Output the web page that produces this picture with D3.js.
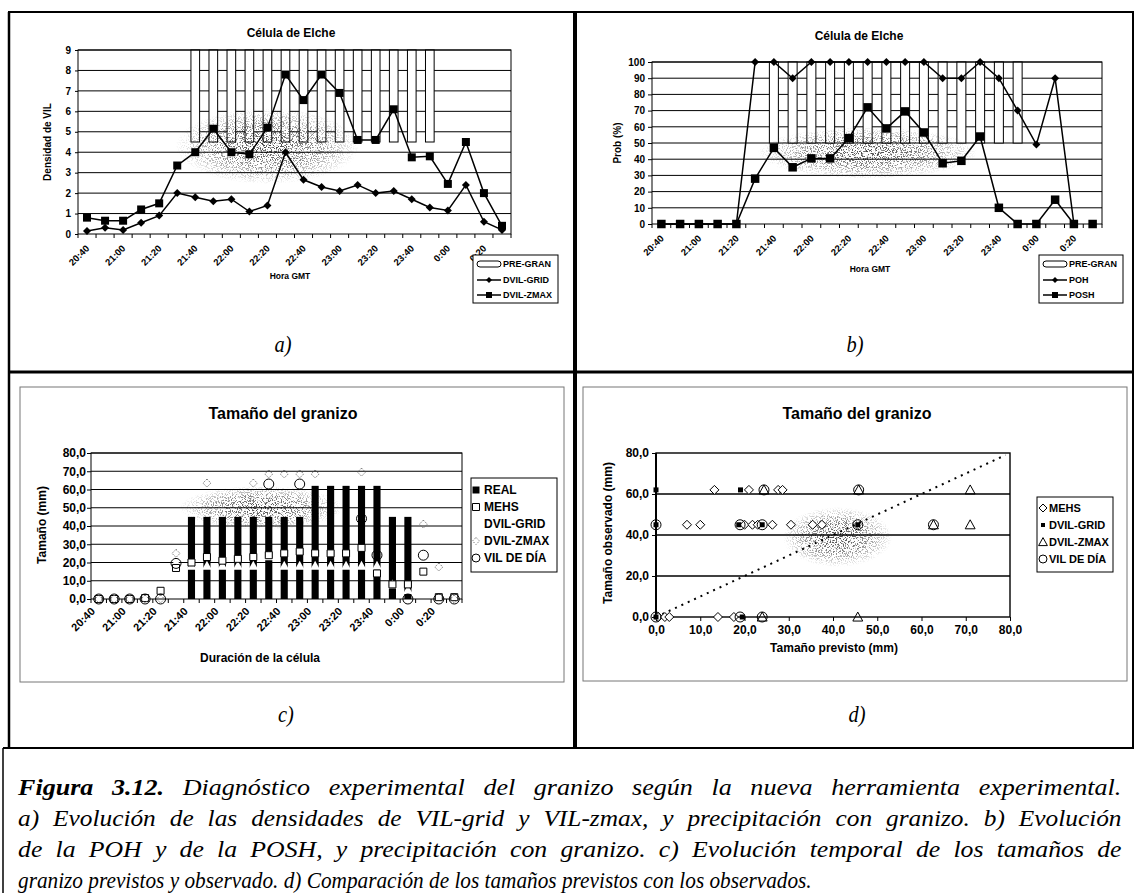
<!DOCTYPE html>
<meta charset="utf-8">
<style>
body { margin: 0; background: #fff; }
text { font-family: "Liberation Sans", Arial, sans-serif; font-weight: bold; fill: #000; }
text.pie { font-family: "Liberation Serif", "Times New Roman", serif; font-style: italic; font-weight: normal; }
</style>
<body>
<svg id="figura" width="1136" height="893"></svg>
<script src="https://d3js.org/d3.v7.min.js"></script>
<script>
// ---------- datos ----------
var horas = ["20:40","20:50","21:00","21:10","21:20","21:30","21:40","21:50","22:00","22:10","22:20","22:30",
             "22:40","22:50","23:00","23:10","23:20","23:30","23:40","23:50","0:00","0:10","0:20","0:30"];
var horasEtiqueta = ["20:40","21:00","21:20","21:40","22:00","22:20","22:40","23:00","23:20","23:40","0:00","0:20"];

// a) densidades de VIL
var preGranBaseA = [null,null,null,null,null,null,4.5,4.5,4.5,4.5,4.5,4.5,4.5,4.5,4.5,4.5,4.5,4.5,4.5,4.5,null,null,null,null];
var preGranTopeA = [null,null,null,null,null,null,9,9,9,9,9,9,9,9,9,9,9,9,9,9,null,null,null,null];
var dvilGrid = [0.15,0.3,0.2,0.55,0.9,2.0,1.8,1.6,1.7,1.1,1.4,4.0,2.65,2.3,2.1,2.4,2.0,2.1,1.7,1.3,1.15,2.4,0.6,0.2];
var dvilZmax = [0.8,0.65,0.65,1.2,1.5,3.35,4.0,5.15,4.0,3.9,5.2,7.8,6.55,7.8,6.9,4.6,4.6,6.1,3.75,3.8,2.45,4.5,2.0,0.4];

// b) POH y POSH
var preGranBaseB = [null,null,null,null,null,null,50,50,50,50,50,50,50,50,50,50,50,50,50,50,null,null,null,null];
var preGranTopeB = [null,null,null,null,null,null,100,100,100,100,100,100,100,100,100,100,100,100,100,100,null,null,null,null];
var poh  = [0,0,0,0,0,100,100,90,100,100,100,100,100,100,100,90,90,100,90,70,49,90,0,0];
var posh = [0,0,0,0,0,28,47,35,40.5,40.5,53,72,59,69.5,56.5,37.5,39,54,10,0,0,15,0,0];
var ultimaUnidaB = 22; // el punto de 0:30 queda suelto, sin linea

// c) tamaño del granizo en el tiempo
var tamReal = [0,0,0,0,0,0,45,45,45,45,45,45,45,45,62,62,62,62,62,45,45,0,0,0];
var tamMehs = [0,0,0,0.5,4.5,17,20,23,21,22,23,24,25,26,25,25,25,28,14,8,8,15,1,1];
var tamGrid = [null,null,null,null,null,20,18.2,18.2,18.2,18.2,18.2,23.5,18.2,18.2,18.2,18.2,18.2,18.2,18.2,8,5,17,null,null];
var tamZmax = [0,0,0,0,0,25,null,63.5,null,null,63.5,68.5,68.5,68.5,68.5,null,null,69.5,null,null,null,41,17.5,0];
var tamVil  = [0,0,0,0,0,19.5,null,null,null,null,null,63,null,63,null,null,null,44,24,null,0,24,0,0];

// d) previsto frente a observado  [previsto, observado]
var dispMehs = [[13.2,62],[21,62],[27.6,62],[28.6,62],[7,45],[10,45],[20,45],[21.8,45],[23,45],[26.3,45],
                [30.5,45],[35.4,45],[37.5,45],[0.5,0],[2,0],[3,0],[14,0],[17.6,0]];
var dispGrid = [[0,62],[19.1,62],[0,45],[18.7,45],[24,45],[45.6,45],[0,0],[19.5,0]];
var dispZmax = [[24.4,62],[45.8,62],[71,62],[62.7,45],[71,45],[24,0],[45.6,0]];
var dispVil  = [[24.4,62],[45.8,62],[0,45],[19,45],[24,45],[45.6,45],[62.7,45],[0,0],[19,0],[24,0]];
var dispRecta = [[0,0],[79,79]];

var ejeDisp = [0,10,20,30,40,50,60,70,80];

var pieLineas = [
  [["Figura 3.12.", true], [" Diagnóstico experimental del granizo según la nueva herramienta experimental.", false]],
  [["a) Evolución de las densidades de VIL-grid y VIL-zmax, y precipitación con granizo. b) Evolución", false]],
  [["de la POH y de la POSH, y precipitación con granizo. c) Evolución temporal de los tamaños de", false]],
  [["granizo previstos y observado. d) Comparación de los tamaños previstos con los observados.", false]]
];

// ---------- dibujo ----------
var svg = d3.select("#figura");
svg.append("rect").attr("width", 1136).attr("height", 893).attr("fill", "#fff");

var es = d3.formatLocale({decimal: ",", thousands: ".", grouping: [3], currency: ["", ""]});
var fmt1 = es.format(".1f");

var defs = svg.append("defs");
var grad = defs.append("radialGradient").attr("id", "nube");
grad.append("stop").attr("offset", "0%").attr("stop-color", "#000").attr("stop-opacity", 0.75);
grad.append("stop").attr("offset", "55%").attr("stop-color", "#000").attr("stop-opacity", 0.45);
grad.append("stop").attr("offset", "100%").attr("stop-color", "#000").attr("stop-opacity", 0);
var filtro = defs.append("filter").attr("id", "grano");
filtro.append("feTurbulence").attr("type", "fractalNoise").attr("baseFrequency", 0.8)
  .attr("numOctaves", 2).attr("seed", 7).attr("result", "ruido");
filtro.append("feColorMatrix").attr("in", "ruido").attr("type", "matrix")
  .attr("values", "0 0 0 0 0  0 0 0 0 0  0 0 0 0 0  9 0 0 0 -4.6").attr("result", "puntos");
filtro.append("feComposite").attr("in", "puntos").attr("in2", "SourceGraphic").attr("operator", "in");

function forma(tipo, s) {
  var r = s / 2;
  if (tipo == "diamante") return "M0," + (-r) + "L" + r + ",0L0," + r + "L" + (-r) + ",0Z";
  if (tipo == "cuadrado") return "M" + (-r) + "," + (-r) + "h" + s + "v" + s + "h" + (-s) + "Z";
  if (tipo == "triangulo") return "M0," + (-r * 1.1) + "L" + (r * 1.1) + "," + (r * 0.9) + "L" + (-r * 1.1) + "," + (r * 0.9) + "Z";
  return d3.symbol(d3.symbolCircle, Math.PI * r * r)();
}

function marcas(g, pts, fx, fy, o) {
  g.append("g").selectAll("path")
    .data(pts.filter(function (d) { return d[1] != null; }))
    .join("path")
    .attr("transform", function (d) { return "translate(" + fx(d[0]) + "," + fy(d[1]) + ")"; })
    .attr("d", forma(o.tipo, o.tam))
    .attr("fill", o.relleno)
    .attr("stroke", o.borde || "none")
    .attr("stroke-width", o.grosor || 1)
    .attr("stroke-dasharray", o.guion || null);
}

function nube(g, cx, cy, rx, ry) {
  g.append("ellipse").attr("cx", cx).attr("cy", cy).attr("rx", rx).attr("ry", ry)
    .attr("fill", "url(#nube)").attr("filter", "url(#grano)");
}

function leyenda(g, caja, items, fs) {
  g.append("rect").attr("x", caja[0]).attr("y", caja[1]).attr("width", caja[2]).attr("height", caja[3])
    .attr("fill", "#fff").attr("stroke", "#000");
  items.forEach(function (it) {
    if (it.barra) g.append("rect").attr("x", it.sx - 12).attr("y", it.cy - 3).attr("width", 24).attr("height", 6)
      .attr("rx", 3).attr("fill", "#fff").attr("stroke", "#000");
    if (it.linea) g.append("line").attr("x1", it.sx - 12).attr("x2", it.sx + 12).attr("y1", it.cy).attr("y2", it.cy)
      .attr("stroke", "#000").attr("stroke-width", 1.5);
    if (it.tipo) g.append("path").attr("transform", "translate(" + it.sx + "," + it.cy + ")")
      .attr("d", forma(it.tipo, it.tam)).attr("fill", it.relleno).attr("stroke", it.borde || "none")
      .attr("stroke-dasharray", it.guion || null);
    g.append("text").attr("x", it.tx).attr("y", it.cy + fs * 0.36).attr("font-size", fs).text(it.texto);
  });
}

function ejesTiempo(g, x, y, p) {
  var bordes = horas.map(function (h) { return x(h); }).concat([x.range()[1]]);
  g.append("g").selectAll("line").data(bordes).join("line")
    .attr("x1", function (d) { return d; }).attr("x2", function (d) { return d; })
    .attr("y1", p.abajo).attr("y2", p.abajo + 4).attr("stroke", "#000");
  var xa = g.append("g").attr("transform", "translate(0," + p.abajo + ")")
    .call(d3.axisBottom(x).tickValues(horasEtiqueta).tickSize(0));
  xa.select(".domain").remove();
  xa.attr("font-size", p.fx);
  xa.selectAll("text").attr("y", 0).attr("dy", 0).attr("text-anchor", "end")
    .attr("transform", "translate(" + p.etqDx + "," + p.etqDy + ") rotate(-45)");
  var ya = g.append("g").attr("transform", "translate(" + p.izq + ",0)")
    .call(d3.axisLeft(y).tickValues(p.yTicks).tickSize(p.tick).tickPadding(p.pad).tickFormat(p.formato));
  ya.select(".domain").remove();
  ya.attr("font-size", p.fy);
}

function panelHora(p) {
  var g = svg.append("g");
  var x = d3.scaleBand().domain(horas).range([p.izq, p.der]);
  var xc = function (h) { return x(h) + x.bandwidth() / 2; };
  var y = d3.scaleLinear().domain([0, p.ymax]).range([p.abajo, p.arriba]);

  g.append("g").selectAll("line").data(p.yTicks.filter(function (v) { return v > 0; })).join("line")
    .attr("x1", p.izq).attr("x2", p.der).attr("y1", y).attr("y2", y).attr("stroke", "#000");

  var barras = horas.map(function (h, i) { return {h: h, base: p.base[i], tope: p.tope[i]}; })
    .filter(function (d) { return d.base != null; });
  g.append("g").selectAll("rect").data(barras).join("rect")
    .attr("x", function (d) { return xc(d.h) - x.bandwidth() * 0.24; })
    .attr("width", x.bandwidth() * 0.48)
    .attr("y", function (d) { return y(d.tope); })
    .attr("height", function (d) { return y(d.base) - y(d.tope); })
    .attr("fill", "#fff").attr("stroke", "#000");

  nube(g, xc(p.nube[0]), y(p.nube[1]), p.nube[2], p.nube[3]);

  g.append("rect").attr("x", p.izq).attr("y", p.arriba).attr("width", p.der - p.izq)
    .attr("height", p.abajo - p.arriba).attr("fill", "none").attr("stroke", "#000");
  ejesTiempo(g, x, y, p);

  p.series.forEach(function (s) {
    var pts = horas.map(function (h, i) { return [h, s.valores[i], i]; });
    var linea = d3.line()
      .defined(function (d) { return d[1] != null && d[2] <= s.hasta; })
      .x(function (d) { return xc(d[0]); })
      .y(function (d) { return y(d[1]); });
    g.append("path").datum(pts).attr("d", linea).attr("fill", "none")
      .attr("stroke", "#000").attr("stroke-width", 1.5);
    marcas(g, pts, xc, y, s);
  });

  g.append("text").attr("x", p.tituloX).attr("y", p.tituloY).attr("text-anchor", "middle")
    .attr("font-size", 12).text("Célula de Elche");
  g.append("text").attr("transform", "translate(" + p.yLabX + "," + ((p.arriba + p.abajo) / 2) + ") rotate(-90)")
    .attr("text-anchor", "middle").attr("font-size", 10).text(p.yLab);
  g.append("text").attr("x", p.xLabX).attr("y", p.xLabY).attr("text-anchor", "middle")
    .attr("font-size", 8.5).text("Hora GMT");
  leyenda(g, p.caja, p.leyenda, 9);
}

// a)
panelHora({
  izq: 78, der: 511, arriba: 50, abajo: 234, ymax: 9, yTicks: d3.range(0, 10),
  base: preGranBaseA, tope: preGranTopeA, nube: ["22:20", 4.3, 92, 38],
  fx: 9.5, fy: 10, tick: 3, pad: 4, formato: d3.format("d"), etqDx: 3, etqDy: 15,
  series: [
    {valores: dvilGrid, tipo: "diamante", tam: 8, relleno: "#000", hasta: 99},
    {valores: dvilZmax, tipo: "cuadrado", tam: 8, relleno: "#000", hasta: 99}
  ],
  tituloX: 291, tituloY: 37, yLab: "Densidad de VIL", yLabX: 51, xLabX: 290, xLabY: 279,
  caja: [473, 255, 85, 48],
  leyenda: [
    {texto: "PRE-GRAN", sx: 489, cy: 264, tx: 503, barra: true},
    {texto: "DVIL-GRID", sx: 489, cy: 280, tx: 503, linea: true, tipo: "diamante", tam: 6, relleno: "#000"},
    {texto: "DVIL-ZMAX", sx: 489, cy: 295, tx: 503, linea: true, tipo: "cuadrado", tam: 6, relleno: "#000"}
  ]
});

// b)
panelHora({
  izq: 652, der: 1102, arriba: 62, abajo: 224, ymax: 100, yTicks: d3.range(0, 101, 10),
  base: preGranBaseB, tope: preGranTopeB, nube: ["22:30", 44, 110, 26],
  fx: 9.5, fy: 10, tick: 4, pad: 3, formato: d3.format("d"), etqDx: 3, etqDy: 15,
  series: [
    {valores: poh, tipo: "diamante", tam: 8, relleno: "#000", hasta: ultimaUnidaB},
    {valores: posh, tipo: "cuadrado", tam: 8.5, relleno: "#000", hasta: ultimaUnidaB}
  ],
  tituloX: 859, tituloY: 40, yLab: "Prob (%)", yLabX: 621, xLabX: 870, xLabY: 272,
  caja: [1039, 255, 84, 48],
  leyenda: [
    {texto: "PRE-GRAN", sx: 1055, cy: 264, tx: 1069, barra: true},
    {texto: "POH", sx: 1055, cy: 280, tx: 1069, linea: true, tipo: "diamante", tam: 6, relleno: "#000"},
    {texto: "POSH", sx: 1055, cy: 295, tx: 1069, linea: true, tipo: "cuadrado", tam: 6, relleno: "#000"}
  ]
});

// c)
(function () {
  var p = {izq: 91, der: 462, arriba: 453, abajo: 599, yTicks: d3.range(0, 81, 10),
           fx: 11, fy: 12, tick: 4, pad: 1, formato: fmt1, etqDx: -3, etqDy: 13};
  svg.append("rect").attr("x", 20).attr("y", 387).attr("width", 544).attr("height", 295)
    .attr("fill", "none").attr("stroke", "#777");
  var g = svg.append("g");
  var x = d3.scaleBand().domain(horas).range([p.izq, p.der]);
  var xc = function (h) { return x(h) + x.bandwidth() / 2; };
  var y = d3.scaleLinear().domain([0, 80]).range([p.abajo, p.arriba]);

  g.append("g").selectAll("line").data(p.yTicks.filter(function (v) { return v > 0; })).join("line")
    .attr("x1", p.izq).attr("x2", p.der).attr("y1", y).attr("y2", y).attr("stroke", "#000");

  g.append("g").selectAll("rect").data(horas.map(function (h, i) { return [h, tamReal[i]]; })).join("rect")
    .attr("x", function (d) { return xc(d[0]) - x.bandwidth() * 0.23; })
    .attr("width", x.bandwidth() * 0.46)
    .attr("y", function (d) { return y(d[1]); })
    .attr("height", function (d) { return y(0) - y(d[1]); })
    .attr("fill", "#000");

  marcas(g, horas.map(function (h, i) { return [h, tamGrid[i]]; }), xc, y,
         {tipo: "triangulo", tam: 9, relleno: "#fff"});
  nube(g, xc("22:20") + 8, y(50), 82, 22);

  g.append("rect").attr("x", p.izq).attr("y", p.arriba).attr("width", p.der - p.izq)
    .attr("height", p.abajo - p.arriba).attr("fill", "none").attr("stroke", "#000");
  ejesTiempo(g, x, y, p);

  marcas(g, horas.map(function (h, i) { return [h, tamMehs[i]]; }), xc, y,
         {tipo: "cuadrado", tam: 7, relleno: "#fff", borde: "#000"});
  marcas(g, horas.map(function (h, i) { return [h, tamZmax[i]]; }), xc, y,
         {tipo: "diamante", tam: 8, relleno: "none", borde: "#666", guion: "1.5,1.5"});
  marcas(g, horas.map(function (h, i) { return [h, tamVil[i]]; }), xc, y,
         {tipo: "circulo", tam: 10, relleno: "none", borde: "#000"});

  g.append("text").attr("x", 283).attr("y", 419).attr("text-anchor", "middle").attr("font-size", 16)
    .text("Tamaño del granizo");
  g.append("text").attr("transform", "translate(46,525) rotate(-90)").attr("text-anchor", "middle")
    .attr("font-size", 12).text("Tamaño (mm)");
  g.append("text").attr("x", 260).attr("y", 662).attr("text-anchor", "middle").attr("font-size", 12)
    .text("Duración de la célula");
  leyenda(g, [471, 478, 86, 94], [
    {texto: "REAL", sx: 476, cy: 490, tx: 484, tipo: "cuadrado", tam: 7, relleno: "#000"},
    {texto: "MEHS", sx: 476, cy: 507, tx: 484, tipo: "cuadrado", tam: 7, relleno: "#fff", borde: "#000"},
    {texto: "DVIL-GRID", sx: 476, cy: 524, tx: 484, tipo: "triangulo", tam: 7, relleno: "#fff"},
    {texto: "DVIL-ZMAX", sx: 476, cy: 541, tx: 484, tipo: "diamante", tam: 7, relleno: "none", borde: "#777", guion: "1.5,1.5"},
    {texto: "VIL DE DÍA", sx: 476, cy: 558, tx: 484, tipo: "circulo", tam: 8, relleno: "none", borde: "#000"}
  ], 12);
})();

// d)
(function () {
  svg.append("rect").attr("x", 583).attr("y", 387).attr("width", 544).attr("height", 294)
    .attr("fill", "none").attr("stroke", "#777");
  var g = svg.append("g");
  var izq = 656, der = 1010, arriba = 453, abajo = 617;
  var x = d3.scaleLinear().domain([0, 80]).range([izq, der]);
  var y = d3.scaleLinear().domain([0, 80]).range([abajo, arriba]);

  g.append("g").selectAll("line").data([20, 40, 60]).join("line")
    .attr("x1", izq).attr("x2", der).attr("y1", y).attr("y2", y)
    .attr("stroke", "#000").attr("stroke-width", 1.4);
  nube(g, x(41), y(39), 55, 30);
  g.append("rect").attr("x", izq).attr("y", arriba).attr("width", der - izq).attr("height", abajo - arriba)
    .attr("fill", "none").attr("stroke", "#000").attr("stroke-width", 1.4);

  var xa = g.append("g").attr("transform", "translate(0," + abajo + ")")
    .call(d3.axisBottom(x).tickValues(ejeDisp).tickSize(4).tickPadding(4).tickFormat(fmt1));
  xa.select(".domain").remove();
  xa.attr("font-size", 12);
  var ya = g.append("g").attr("transform", "translate(" + izq + ",0)")
    .call(d3.axisLeft(y).tickValues([0, 20, 40, 60, 80]).tickSize(4).tickPadding(3).tickFormat(fmt1));
  ya.select(".domain").remove();
  ya.attr("font-size", 12);
  g.append("line").attr("x1", izq).attr("x2", izq).attr("y1", arriba).attr("y2", abajo)
    .attr("stroke", "#000").attr("stroke-width", 2);

  g.append("path").datum(dispRecta)
    .attr("d", d3.line().x(function (d) { return x(d[0]); }).y(function (d) { return y(d[1]); }))
    .attr("fill", "none").attr("stroke", "#000").attr("stroke-width", 2).attr("stroke-dasharray", "2,5");

  marcas(g, dispMehs, x, y, {tipo: "diamante", tam: 9, relleno: "#fff", borde: "#000"});
  marcas(g, dispGrid, x, y, {tipo: "cuadrado", tam: 5, relleno: "#000"});
  marcas(g, dispZmax, x, y, {tipo: "triangulo", tam: 9, relleno: "none", borde: "#000"});
  marcas(g, dispVil, x, y, {tipo: "circulo", tam: 10, relleno: "none", borde: "#000"});

  g.append("text").attr("x", 857).attr("y", 419).attr("text-anchor", "middle").attr("font-size", 16)
    .text("Tamaño del granizo");
  g.append("text").attr("transform", "translate(612,533) rotate(-90)").attr("text-anchor", "middle")
    .attr("font-size", 12).text("Tamaño observado (mm)");
  g.append("text").attr("x", 834).attr("y", 652).attr("text-anchor", "middle").attr("font-size", 12)
    .text("Tamaño previsto (mm)");
  leyenda(g, [1037, 497, 76, 75], [
    {texto: "MEHS", sx: 1043, cy: 508, tx: 1049, tipo: "diamante", tam: 8, relleno: "#fff", borde: "#000"},
    {texto: "DVIL-GRID", sx: 1043, cy: 525, tx: 1049, tipo: "cuadrado", tam: 4, relleno: "#000"},
    {texto: "DVIL-ZMAX", sx: 1043, cy: 542, tx: 1049, tipo: "triangulo", tam: 8, relleno: "none", borde: "#000"},
    {texto: "VIL DE DÍA", sx: 1043, cy: 559, tx: 1049, tipo: "circulo", tam: 8, relleno: "none", borde: "#000"}
  ], 11);
})();

// marco de la figura
var marco = svg.append("g").attr("stroke", "#000").attr("fill", "none");
marco.append("line").attr("x1", 8).attr("x2", 1134).attr("y1", 12).attr("y2", 12).attr("stroke-width", 2);
marco.append("line").attr("x1", 9).attr("x2", 9).attr("y1", 12).attr("y2", 748).attr("stroke-width", 2.5);
marco.append("line").attr("x1", 1133).attr("x2", 1133).attr("y1", 12).attr("y2", 748).attr("stroke-width", 2);
marco.append("line").attr("x1", 575).attr("x2", 575).attr("y1", 12).attr("y2", 748).attr("stroke-width", 4);
marco.append("line").attr("x1", 8).attr("x2", 1134).attr("y1", 372).attr("y2", 372).attr("stroke-width", 3);
marco.append("line").attr("x1", 3).attr("x2", 1134).attr("y1", 748).attr("y2", 748).attr("stroke-width", 2);
marco.append("line").attr("x1", 3).attr("x2", 3).attr("y1", 748).attr("y2", 893).attr("stroke-width", 1.5);

[["a)", 283, 352], ["b)", 855, 352], ["c)", 286, 722], ["d)", 857, 722]].forEach(function (l) {
  svg.append("text").attr("class", "pie").attr("x", l[1]).attr("y", l[2]).attr("text-anchor", "middle")
    .attr("font-size", 24).attr("transform", "translate(" + (l[1] * 0.15) + ",0) scale(0.85,1)").text(l[0]);
});

// pie de figura: letra estrecha y lineas justificadas; en las lineas llenas
// el hueco sobrante se reparte entre ensanchar la letra y separar palabras
var pie = svg.append("g");
var pieIzq = 18, pieDer = 1122, pieBase = 795, pieSalto = 31, pieFs = 24;
var prueba = pie.append("text").attr("class", "pie").attr("font-size", pieFs).text(pieLineas[3][0][0]);
var escala = 794 / prueba.node().getComputedTextLength();
prueba.remove();
pieLineas.forEach(function (linea, k) {
  var t = pie.append("text").attr("class", "pie").attr("x", 0).attr("y", 0).attr("font-size", pieFs);
  linea.forEach(function (seg) {
    t.append("tspan").attr("font-weight", seg[1] ? "bold" : null).text(seg[0]);
  });
  var esc = escala;
  if (k < pieLineas.length - 1) {
    var texto = linea.map(function (s) { return s[0]; }).join("");
    var espacios = (texto.match(/ /g) || []).length;
    var ancho = t.node().getComputedTextLength();
    var objetivo = pieDer - pieIzq;
    esc = (escala * ancho + 0.6 * (objetivo - escala * ancho)) / ancho;
    t.attr("word-spacing", (objetivo / esc - ancho) / espacios);
  }
  t.attr("transform", "translate(" + pieIzq + "," + (pieBase + k * pieSalto) + ") scale(" + esc + ",1)");
});
</script>
</body>
